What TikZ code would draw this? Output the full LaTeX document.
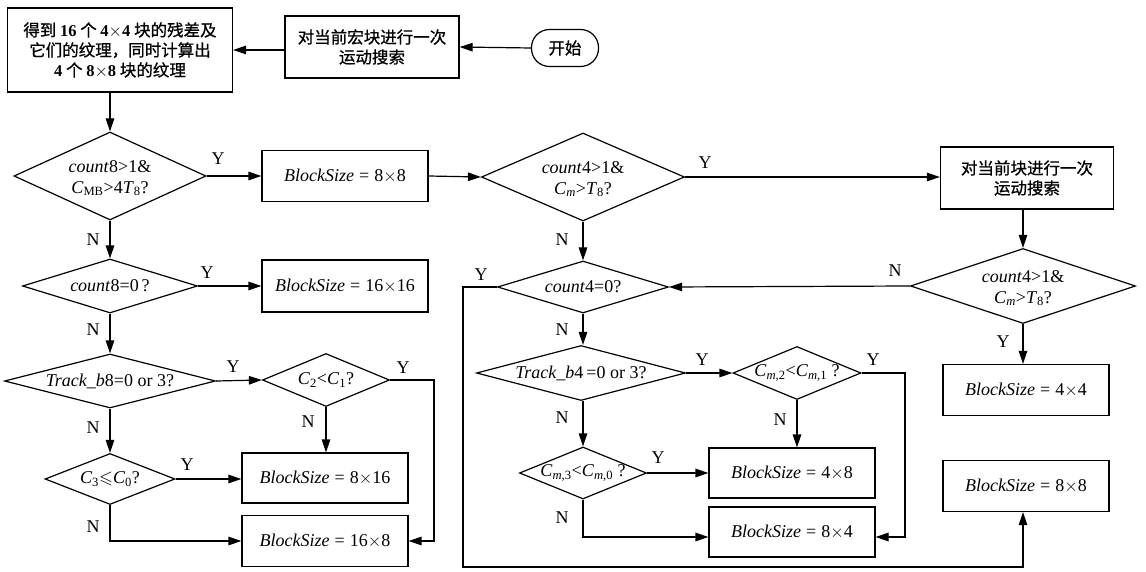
\documentclass[tikz,border=0pt]{standalone}
\usepackage{amssymb}
\usepackage{fontspec}
\setmainfont{Liberation Serif}
\newfontfamily\cjk[FakeBold=0.8]{Noto Sans CJK SC}
\usetikzlibrary{shapes.geometric,arrows.meta}
\newcommand{\lat}{\fontsize{18}{21}\selectfont}
\newcommand{\zh}{\cjk\fontsize{16.5}{20}\selectfont}
\newcommand{\nm}[1]{{\rmfamily\bfseries #1}}
\newcommand{\tms}{$\times$}
\newcommand{\bsz}[1]{\textit{BlockSize}\;=\;#1}
\newcommand{\Cmx}[1]{\textit{C}\textsubscript{\textit{m},#1}}
\tikzset{
  ln/.style={line width=1.2pt},
  arr/.style={line width=1.2pt, -{Triangle[length=13pt,width=8.5pt]}},
  box/.style={draw, line width=1.2pt, inner sep=0pt, align=center, font=\lat, minimum width=166pt, minimum height=51pt},
  zhbox/.style={draw, line width=1.2pt, inner sep=0pt, align=center, font=\zh},
  dia/.style={draw, diamond, line width=1.2pt, inner sep=0pt},
  dtxt/.style={align=center, inner sep=0pt, font=\lat},
  yn/.style={font=\lat, inner sep=0pt},
}
\begin{document}
\begin{tikzpicture}[x=1pt,y=-1pt]
\useasboundingbox (0,0) rectangle (1146,572);
% top row
\node[zhbox, minimum width=225pt, minimum height=84pt] (a) at (120,50)
  {得到 \nm{16} 个 \nm{4\tms4} 块的残差及\\它们的纹理，同时计算出\\\nm{4} 个 \nm{8\tms8} 块的纹理};
\node[zhbox, minimum width=174pt, minimum height=62pt] (b) at (372,47)
  {对当前宏块进行一次\\运动搜索};
\node[zhbox, minimum width=67pt, minimum height=37pt, rounded corners=18pt] (s) at (565,48) {开始};
% left column
\node[dia, minimum width=192pt, minimum height=88pt] (d1) at (110,176) {};
\node[dtxt] (d1t) at (110,178) {\textit{count}8>1\&\\\textit{C}\textsubscript{MB}>4\textit{T}\textsubscript{8}?};
\node[box] (bs88) at (345,176) {\bsz{8\tms8}};
\node[dia, minimum width=175pt, minimum height=54pt] (d2) at (110,286) {};
\node[dtxt] (d2t) at (110,286) {\textit{count}8=0\,?};
\node[box, minimum height=52pt] (bs1616) at (345,286) {\bsz{16\tms16}};
\node[dia, minimum width=211pt, minimum height=54pt] (d3) at (110,381) {};
\node[dtxt] (d3t) at (110,381) {\textit{Track\_b}8=0 or 3?};
\node[dia, minimum width=127pt, minimum height=53pt] (d5) at (326,380) {};
\node[dtxt] (d5t) at (326,380) {\textit{C}\textsubscript{2}<\textit{C}\textsubscript{1}?};
\node[dia, minimum width=130pt, minimum height=51pt] (d6) at (110,479) {};
\node[dtxt] (d6t) at (110,479) {\textit{C}\textsubscript{3}$\leqslant$\textit{C}\textsubscript{0}?};
\node[box, minimum height=50pt] (bs816) at (325,478) {\bsz{8\tms16}};
\node[box] (bs168) at (325,541) {\bsz{16\tms8}};
% middle column
\node[dia, minimum width=203pt, minimum height=88pt] (d4) at (583,177) {};
\node[dtxt] (d4t) at (583,179) {\textit{count}4>1\&\\\textit{C}\textsubscript{\textit{m}}>\textit{T}\textsubscript{8}?};
\node[dia, minimum width=171pt, minimum height=52pt] (d7) at (583,287) {};
\node[dtxt] (d7t) at (583,287) {\textit{count}4=0?};
\node[dia, minimum width=209pt, minimum height=55pt] (d8) at (581,373) {};
\node[dtxt] (d8t) at (581,373) {\textit{Track\_b}4\,=0 or 3?};
\node[dia, minimum width=128pt, minimum height=53pt] (d10) at (797,373) {};
\node[dtxt] (d10t) at (797,373) {\Cmx{2}<\Cmx{1} ?};
\node[dia, minimum width=127pt, minimum height=52pt] (d11) at (583,473) {};
\node[dtxt] (d11t) at (583,473) {\Cmx{3}<\Cmx{0} ?};
\node[box, minimum height=50pt] (bs48) at (792,473) {\bsz{4\tms8}};
\node[box, minimum height=50pt] (bs84) at (792,532) {\bsz{8\tms4}};
% right column
\node[zhbox, minimum width=173pt, minimum height=62pt] (r1) at (1027,178) {对当前块进行一次\\运动搜索};
\node[dia, minimum width=225pt, minimum height=75pt] (d9) at (1023,286) {};
\node[dtxt] (d9t) at (1023,288) {\textit{count}4>1\&\\\textit{C}\textsubscript{\textit{m}}>\textit{T}\textsubscript{8}?};
\node[box] (bs44) at (1026,390) {\bsz{4\tms4}};
\node[box] (bs88b) at (1026,486) {\bsz{8\tms8}};
% helper coordinates
\coordinate (c1) at (434,380);
\coordinate (c2) at (434,541);
\coordinate (c3) at (110,541);
\coordinate (c4) at (463,287);
\coordinate (c5) at (463,567);
\coordinate (c6) at (1023,567);
\coordinate (c7) at (905,373);
\coordinate (c8) at (905,537);
\coordinate (c9) at (583,537);
% connectors
\draw[arr] (s.west) -- (b.east);
\draw[arr] (b.west |- 0,50) -- (a.east |- 0,50);
\draw[arr] (d1.north |- a.south) -- (d1.north);
\draw[arr] (d1.east) -- (bs88.west);
\draw[arr] (bs88.east) -- (d4.west);
\draw[arr] (d4.east) -- (r1.west |- d4.east);
\draw[arr] (d9.north |- r1.south) -- (d9.north);
\draw[arr] (d9.west) -- (d7.east);
\draw[arr] (d9.south) -- (d9.south |- bs44.north);
\draw[arr] (d1.south) -- (d2.north);
\draw[arr] (d2.east) -- (bs1616.west);
\draw[arr] (d2.south) -- (d3.north);
\draw[arr] (d3.east) -- (d5.west);
\draw[arr] (d5.east) -- (c1) -- (c2) -- (bs168.east);
\draw[arr] (d5.south) -- (d5.south |- bs816.north);
\draw[arr] (d3.south) -- (d6.north);
\draw[arr] (d6.east) -- (bs816.west |- d6.east);
\draw[arr] (d6.south) -- (c3) -- (bs168.west);
\draw[arr] (d4.south) -- (d7.north);
\draw[arr] (d7.west) -- (c4) -- (c5) -- (c6) -- (bs88b.south -| c6);
\draw[arr] (d7.south) -- (d8.north -| d7.south);
\draw[arr] (d8.east) -- (d10.west);
\draw[arr] (d10.east) -- (c7) -- (c8) -- (bs84.east |- c8);
\draw[arr] (d10.south) -- (d10.south |- bs48.north);
\draw[arr] (d8.south -| d11.north) -- (d11.north);
\draw[arr] (d11.east) -- (bs48.west |- d11.east);
\draw[arr] (d11.south) -- (c9) -- (bs84.west |- c9);
% Y / N labels
\node[yn] (y1) at (218,159) {Y};
\node[yn] (y2) at (207,273) {Y};
\node[yn] (y3) at (233,367) {Y};
\node[yn] (y4) at (403,368) {Y};
\node[yn] (y5) at (187,465) {Y};
\node[yn] (y6) at (705,163) {Y};
\node[yn] (y7) at (481,275) {Y};
\node[yn] (y8) at (702,360) {Y};
\node[yn] (y9) at (873,360) {Y};
\node[yn] (y10) at (658,458) {Y};
\node[yn] (y11) at (1003,342) {Y};
\node[yn] (n1) at (93,240) {N};
\node[yn] (n2) at (93,330) {N};
\node[yn] (n3) at (93,428) {N};
\node[yn] (n4) at (308,422) {N};
\node[yn] (n5) at (93,527) {N};
\node[yn] (n6) at (562,240) {N};
\node[yn] (n7) at (562,330) {N};
\node[yn] (n8) at (562,418) {N};
\node[yn] (n9) at (780,420) {N};
\node[yn] (n10) at (562,518) {N};
\node[yn] (n11) at (895,271) {N};
\end{tikzpicture}
\end{document}
